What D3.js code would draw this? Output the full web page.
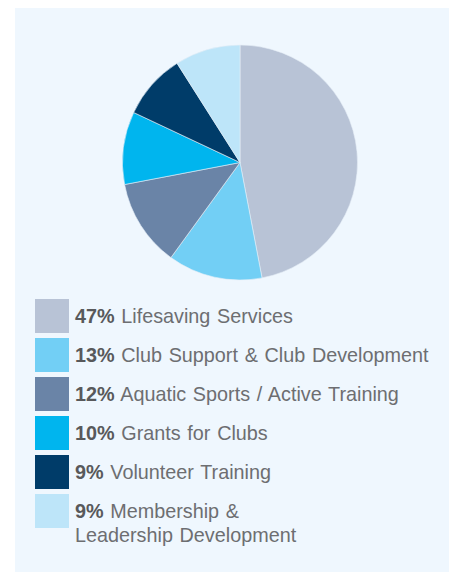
<!DOCTYPE html>
<html>
<head>
<meta charset="utf-8">
<script src="https://cdn.jsdelivr.net/npm/d3@7"></script>
<style>
  html, body { margin: 0; padding: 0; background: #ffffff; }
  svg { display: block; }
</style>
</head>
<body>
<svg id="chart" width="451" height="572"></svg>
<script>
const categories = ["Lifesaving Services", "Club Support & Club Development", "Aquatic Sports / Active Training", "Grants for Clubs", "Volunteer Training", "Membership &\nLeadership Development"];
const values = [47, 13, 12, 10, 9, 9];
const colors = ["#b8c3d6", "#72cff5", "#6a84a7", "#00b5ee", "#003c69", "#bde5f9"];

const svg = d3.select("#chart");
svg.append("rect").attr("x", 15).attr("y", 8).attr("width", 434).attr("height", 564).attr("fill", "#eff7fe");

const cx = 240, cy = 162.5, r = 117.5;
const pie = d3.pie().sort(null).value(d => d)(values);
const arc = d3.arc().innerRadius(0).outerRadius(r);
const g = svg.append("g").attr("transform", `translate(${cx},${cy})`);
g.selectAll("path").data(pie).join("path")
  .attr("d", arc)
  .attr("fill", (d, i) => colors[i])
  .attr("stroke", "#e6eef6")
  .attr("stroke-width", 0.6);

const y = d3.scaleLinear().domain([0, 1]).range([299, 338]);
const leg = svg.append("g");
const font = "'Liberation Sans', Arial, Helvetica, sans-serif";
categories.forEach((c, i) => {
  const top = y(i);
  leg.append("rect").attr("x", 35).attr("y", top).attr("width", 34).attr("height", 34).attr("fill", colors[i]);
  const lines = c.split("\n");
  const t = leg.append("text")
    .attr("x", 75).attr("y", top + 23.5)
    .attr("font-family", font)
    .attr("font-size", 19.8)
    .attr("word-spacing", 1.2)
    .attr("fill", "#6d6e71");
  t.append("tspan").attr("font-weight", "bold").attr("fill", "#58595b").text(values[i] + "%");
  t.append("tspan").text(" " + lines[0]);
  for (let k = 1; k < lines.length; k++) {
    leg.append("text")
      .attr("x", 75).attr("y", top + 23.5 + 24 * k)
      .attr("font-family", font)
      .attr("font-size", 19.8)
      .attr("word-spacing", 1.2)
      .attr("fill", "#6d6e71")
      .text(lines[k]);
  }
});
</script>
</body>
</html>
